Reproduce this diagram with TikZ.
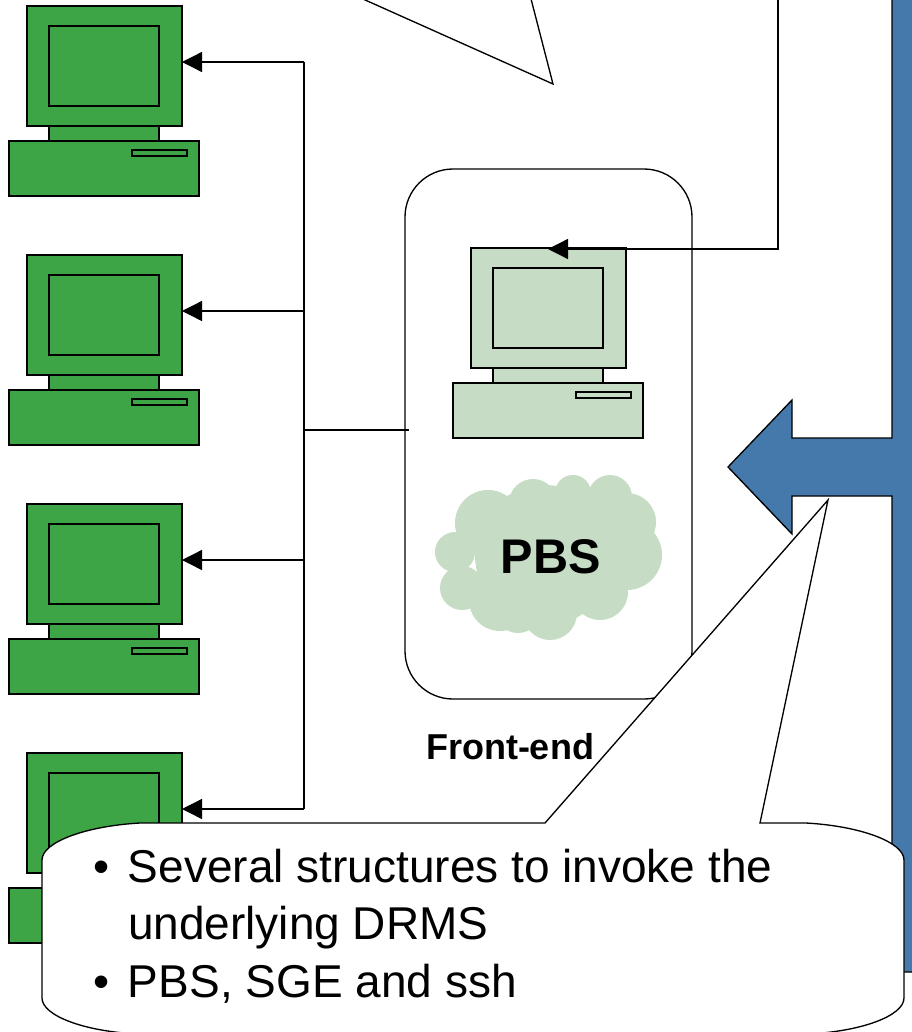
\documentclass[tikz,border=0pt]{standalone}
\usepackage{fontspec}
\setmainfont{Liberation Sans}
\usepackage{tikz}
\usetikzlibrary{
    calc,
    arrows.meta
}
\definecolor{pcgreen}{RGB}{61,165,70}
\definecolor{pcpale}{RGB}{198,220,196}
\definecolor{barblue}{RGB}{69,121,171}
\tikzset{
    pcpart/.style={draw=black, line width=1.3pt, inner sep=0pt, outer sep=0pt},
    link/.style={draw=black, line width=1pt},
    tip/.style={-{Triangle[length=15pt,width=15pt]}},
    outline/.style={draw=black, line width=1pt},
}
% one computer: name, fill, left and top of the monitor
\newcommand{\drawpc}[4]{
    \begin{scope}[shift={(#3,#4)}]
        \node[pcpart, fill=#2, minimum width=116.25pt, minimum height=90pt, anchor=north west] (#1) at (0,0) {};
        \node[pcpart, fill=#2, minimum width=82.5pt, minimum height=60pt, anchor=north west] (#1screen) at (22,20) {};
        \node[pcpart, fill=#2, minimum width=82.5pt, minimum height=11.25pt, anchor=north west] (#1neck) at (22,120) {};
        \node[pcpart, fill=#2, minimum width=142.5pt, minimum height=41.25pt, anchor=north west] (#1base) at (-18,135) {};
        \node[pcpart, fill=#2, minimum width=41.25pt, minimum height=4.5pt, anchor=north west] (#1slot) at (105,144) {};
    \end{scope}
}

\begin{document}
\begin{tikzpicture}[x=0.75pt, y=-0.75pt]
        \useasboundingbox (0,0) rectangle (911,1032);

        \drawpc{pca}{pcgreen}{27}{6}
        \drawpc{pcb}{pcgreen}{27}{255}
        \drawpc{pcc}{pcgreen}{27}{504}
        \drawpc{pcd}{pcgreen}{27}{753}

        % bus and its branches
        \coordinate (busa) at (304,62);
        \coordinate (busb) at (304,311);
        \coordinate (busc) at (304,560);
        \coordinate (busd) at (304,809);
        \coordinate (busmid) at (304,430);
        \draw[link] (busa) -- (busd);
        \draw[link, tip] (busa) -- (busa -| pca.east);
        \draw[link, tip] (busb) -- (busb -| pcb.east);
        \draw[link, tip] (busc) -- (busc -| pcc.east);
        \draw[link, tip] (busd) -- (busd -| pcd.east);

        % front-end box
        \node[outline, rounded corners=36pt, minimum width=215.25pt, minimum height=397.5pt, inner sep=0pt, outer sep=0pt] (frontbox) at (548.5,434) {};
        \node[font=\bfseries\fontsize{27}{32}\selectfont, inner sep=0pt] (frontlabel) at (510,747) {Front-end};
        \coordinate (frontedge) at (409,430);
        \draw[link, line width=1.3pt] (busmid) -- (frontedge);

        \drawpc{pcfront}{pcpale}{471}{248}

        % cloud
        \foreach \cx/\cy/\cr in {455/552/20, 462/588/22, 488/523/33, 533/503/24, 573/493/18, 610/497/22,
                627/522/29, 627/555/35, 600/592/28, 550/613/27, 500/600/31, 518/610/23, 545/555/70} {
            \fill[pcpale] (\cx,\cy) circle (\cr);
        }
        \node[font=\bfseries\fontsize{36.5}{40}\selectfont, inner sep=0pt] (pbs) at (551,557) {PBS};

        % blue bar with its arrow
        \draw[outline, fill=barblue] (920,-10) -- (892,-10) -- (892,438) -- (792,438) -- (792,400) -- (728,467)
            -- (792,534) -- (792,496) -- (892,496) -- (892,972) -- (920,972) -- cycle;

        % upper callout and the line to the front-end
        \draw[outline, fill=white] (354,-5) -- (553,84) -- (530,-5);
        \coordinate (topend) at (778,-5);
        \draw[link, tip] (topend) |- (548,249);

        % lower callout
        \draw[outline, fill=white] (140,823) -- (545,823) -- (828,500) -- (760,823) -- (806,823)
            .. controls (860,826) and (904,842) .. (904,860) -- (904,998)
            .. controls (904,1016) and (860,1032) .. (806,1034) -- (140,1034)
            .. controls (86,1032) and (42,1016) .. (42,998) -- (42,860)
            .. controls (42,842) and (86,826) .. (140,823) -- cycle;
        \node[font=\fontsize{34.5}{43}\selectfont, anchor=north west, inner sep=0pt] (bullets) at (93,842) {%
            \begin{tabular}{@{}l@{\hspace{14pt}}l@{}}
            • & Several structures to invoke the\\
              & underlying DRMS\\
            • & PBS, SGE and ssh
            \end{tabular}};
    \end{tikzpicture}
\end{document}
